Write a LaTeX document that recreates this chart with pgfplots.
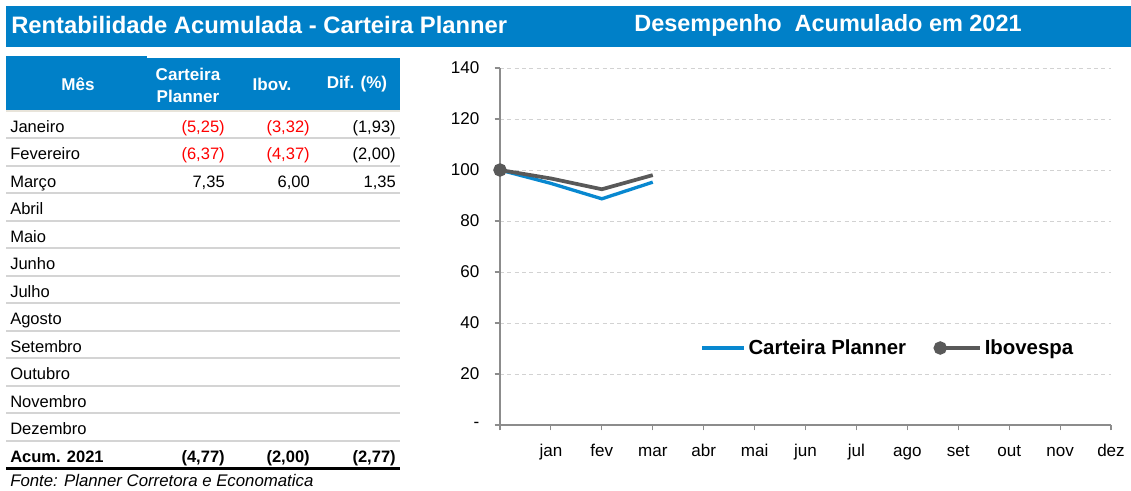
\documentclass[border=0pt]{standalone}
\usepackage{fontspec}
\setmainfont{Liberation Sans}
\usepackage{pgfplots}
\pgfplotsset{compat=1.18}
\definecolor{bannerblue}{RGB}{0,128,200}
\definecolor{lineblue}{RGB}{8,136,208}
\definecolor{linegrey}{RGB}{89,89,89}
\definecolor{sepgrey}{RGB}{212,212,212}
\definecolor{beige}{RGB}{232,228,218}
\definecolor{axgrey}{RGB}{140,140,140}
\definecolor{gridgrey}{RGB}{210,210,210}
\definecolor{negred}{RGB}{255,0,0}
\newcommand\rowfont{\fontsize{12.4pt}{14pt}\selectfont}
\pgfplotsset{
  cpimg/.style={legend image code/.code={\draw[##1, line width=2.6pt] (0pt,0pt) -- (31.5pt,0pt);}},
  ibimg/.style={legend image code/.code={\draw[##1, line width=2.8pt] plot coordinates {(0pt,0pt) (30pt,0pt)};}},
}
\begin{document}
\begin{tikzpicture}
\begin{scope}[x=0.75pt,y=-0.75pt]
\path[use as bounding box] (0,0) rectangle (1131,490);
% banner
\fill[bannerblue] (6,6) rectangle (1131,47);
\node[anchor=west, text=white, inner sep=0pt, font=\bfseries\fontsize{17.85pt}{19pt}\selectfont] at (11,25) {Rentabilidade Acumulada - Carteira Planner};
\node[text=white, inner sep=0pt, font=\bfseries\fontsize{17.6pt}{19pt}\selectfont] at (828,25) {Desempenho\ \ Acumulado em 2021};
% header
\fill[bannerblue] (6,56) rectangle (147,110);
\fill[bannerblue] (6,58) rectangle (400,110);
\begin{scope}[every node/.style={text=white, inner sep=0pt, font=\bfseries\fontsize{12.8pt}{15pt}\selectfont}]
\node at (78,84) {Mês};
\node at (188,74) {Carteira};
\node at (188,96) {Planner};
\node at (272,84) {Ibov.};
\node at (357,84) {Dif. (\%)};
\end{scope}
% separators
\draw[beige, line width=1.5pt] (6,111) -- (400,111);
\foreach \k in {0,...,11} {\draw[sepgrey, line width=1.5pt] (6,{138+27.5*\k}) -- (400,{138+27.5*\k});}
\draw[black, line width=1.9pt] (6,468.5) -- (400,468.5);
% month names
\foreach \m [count=\i from 0] in {Janeiro,Fevereiro,Março,Abril,Maio,Junho,Julho,Agosto,Setembro,Outubro,Novembro,Dezembro}
  {\node[anchor=base west, inner sep=0pt, font=\rowfont] at (10,{132+27.5*\i}) {\m};}
% values
\begin{scope}[every node/.style={anchor=base east, inner sep=0pt, font=\rowfont}]
\node[text=negred] at (225,132) {(5,25)};
\node[text=negred] at (310,132) {(3,32)};
\node at (396,132) {(1,93)};
\node[text=negred] at (225,159.5) {(6,37)};
\node[text=negred] at (310,159.5) {(4,37)};
\node at (396,159.5) {(2,00)};
\node at (225,187) {7,35};
\node at (310,187) {6,00};
\node at (396,187) {1,35};
\end{scope}
\begin{scope}[every node/.style={anchor=base east, inner sep=0pt, font=\bfseries\rowfont}]
\node[anchor=base west] at (10,462) {Acum. 2021};
\node at (225,462) {(4,77)};
\node at (310,462) {(2,00)};
\node at (396,462) {(2,77)};
\end{scope}
\node[anchor=base west, inner sep=0pt, font=\itshape\fontsize{12.6pt}{14pt}\selectfont] at (10,486.5) {Fonte: Planner Corretora e Economatica};
\end{scope}
\begin{axis}[
  at={(375pt,-318.75pt)}, anchor=south west,
  scale only axis, width=458.25pt, height=267.75pt,
  xmin=0, xmax=12, ymin=0, ymax=140,
  clip=false,
  axis x line*=bottom, axis y line*=left,
  axis line style={axgrey, line width=0.8pt, -},
  xtick={0,...,12},
  xticklabels={,jan,fev,mar,abr,mai,jun,jul,ago,set,out,nov,dez},
  ytick={0,20,...,140},
  yticklabels={-,20,40,60,80,100,120,140},
  tick align=outside, major tick length=4pt,
  tick style={axgrey, line width=0.8pt},
  ymajorgrids, major grid style={gridgrey, dash pattern=on 3pt off 2.5pt, line width=0.6pt},
  ticklabel style={font=\fontsize{12.8pt}{14pt}\selectfont, text=black},
  xticklabel style={text height=9.2pt, text depth=2.8pt, yshift=-7pt},
  yticklabel style={xshift=-8pt},
  legend columns=2,
  legend cell align=left,
  legend style={draw=none, fill=none, at={(axis cs:3.93,30.2)}, anchor=west, inner sep=0pt,
    font=\bfseries\fontsize{15.3pt}{17pt}\selectfont,
    /tikz/every even column/.append style={column sep=20pt}},
]
\addplot[lineblue, line width=2.5pt, cpimg]
  coordinates {(0,100) (1,94.75) (2,88.71) (3,95.23)};
\addlegendentry{Carteira Planner}
\addplot[linegrey, line width=2.8pt, mark=*, mark indices={1}, mark size=3.6pt, ibimg]
  coordinates {(0,100) (1,96.68) (2,92.45) (3,98.00)};
\addlegendentry{Ibovespa}
\end{axis}
\end{tikzpicture}
\end{document}
